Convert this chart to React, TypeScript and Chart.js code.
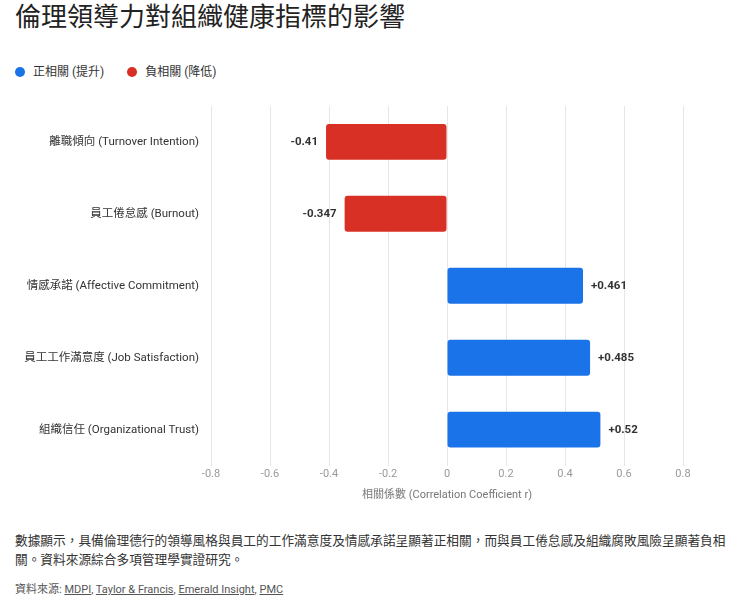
import React, { useEffect, useRef } from "react";
import { Chart, registerables, Plugin } from "chart.js";

Chart.register(...registerables);

const categories = [
  "離職傾向 (Turnover Intention)",
  "員工倦怠感 (Burnout)",
  "情感承諾 (Affective Commitment)",
  "員工工作滿意度 (Job Satisfaction)",
  "組織信任 (Organizational Trust)",
];
const positiveValues = [null, null, 0.461, 0.485, 0.52];
const negativeValues = [-0.41, -0.347, null, null, null];
const xTicks = [-0.8, -0.6, -0.4, -0.2, 0, 0.2, 0.4, 0.6, 0.8];
const seriesNames = ["正相關 (提升)", "負相關 (降低)"];
const seriesColors = ["#1a73e8", "#d93025"];

const FONT = "Roboto, 'Noto Sans CJK TC', 'Noto Sans', sans-serif";

// draws the value next to the end of each bar
const valueLabels: Plugin<"bar"> = {
  id: "valueLabels",
  afterDatasetsDraw(chart) {
    const ctx = chart.ctx;
    ctx.save();
    ctx.font = `bold 11.5px ${FONT}`;
    ctx.fillStyle = "#333";
    ctx.textBaseline = "middle";
    chart.data.datasets.forEach((ds, i) => {
      const meta = chart.getDatasetMeta(i);
      meta.data.forEach((bar: any, j) => {
        const v = ds.data[j] as number | null;
        if (v == null) return;
        if (v < 0) {
          ctx.textAlign = "right";
          ctx.fillText(String(v), bar.x - 8, bar.y);
        } else {
          ctx.textAlign = "left";
          ctx.fillText("+" + v, bar.x + 8, bar.y);
        }
      });
    });
    ctx.restore();
  },
};

const CorrelationChart: React.FC = () => {
  const chartRef = useRef<HTMLCanvasElement | null>(null);
  const chartInstance = useRef<Chart | null>(null);

  useEffect(() => {
    document.body.style.margin = "0";
    if (!chartRef.current) return;
    const ctx = chartRef.current.getContext("2d");
    if (!ctx) return;
    if (chartInstance.current) chartInstance.current.destroy();

    chartInstance.current = new Chart(ctx, {
      type: "bar",
      data: {
        labels: categories,
        datasets: [
          {
            label: seriesNames[0],
            data: positiveValues,
            backgroundColor: seriesColors[0],
            borderRadius: 3,
            borderSkipped: false,
          },
          {
            label: seriesNames[1],
            data: negativeValues,
            backgroundColor: seriesColors[1],
            borderRadius: 3,
            borderSkipped: false,
          },
        ],
      },
      options: {
        indexAxis: "y",
        animation: false,
        responsive: true,
        maintainAspectRatio: false,
        barPercentage: 0.5,
        categoryPercentage: 1,
        layout: { padding: { right: 40, top: 5, bottom: 4 } },
        plugins: {
          legend: { display: false },
          tooltip: { enabled: false },
        },
        scales: {
          x: {
            stacked: true,
            min: -0.8,
            max: 0.8,
            afterBuildTicks: (scale) => {
              scale.ticks = xTicks.map((v) => ({ value: v }));
            },
            ticks: {
              color: "#999",
              padding: 2,
              font: { family: FONT, size: 11 },
              callback: (v) => String(Math.round(Number(v) * 10) / 10),
            },
            grid: { color: "#e6e6e6", drawTicks: false },
            border: { display: false },
            title: {
              display: true,
              text: "相關係數 (Correlation Coefficient r)",
              color: "#777",
              padding: { top: 6, bottom: 4 },
              font: { family: FONT, size: 11 },
            },
          },
          y: {
            stacked: true,
            afterFit: (scale) => {
              scale.width = 196;
            },
            ticks: {
              color: "#333",
              padding: 4,
              font: { family: FONT, size: 11.5 },
            },
            grid: { display: false },
            border: { display: false },
          },
        },
      },
      plugins: [valueLabels],
    });

    return () => {
      if (chartInstance.current) {
        chartInstance.current.destroy();
        chartInstance.current = null;
      }
    };
  }, []);

  return (
    <div style={{ position: "relative", height: 415, width: 708 }}>
      <canvas ref={chartRef}></canvas>
    </div>
  );
};

const linkStyle: React.CSSProperties = { color: "#555", textDecoration: "underline" };

const App: React.FC = () => {
  return (
    <div style={{ fontFamily: FONT, paddingLeft: 15, width: 725 }}>
      <h1
        style={{
          margin: 0,
          fontSize: 26,
          lineHeight: "34px",
          fontWeight: 400,
          color: "#222",
        }}
      >
        倫理領導力對組織健康指標的影響
      </h1>
      <div
        style={{
          height: 61,
          boxSizing: "border-box",
          paddingTop: 31,
          display: "flex",
          alignItems: "flex-start",
          fontSize: 12,
          lineHeight: "14px",
          color: "#333",
        }}
      >
        {seriesNames.map((name, i) => (
          <div key={name} style={{ display: "flex", alignItems: "center", marginRight: 23 }}>
            <span
              style={{
                display: "inline-block",
                width: 10,
                height: 10,
                borderRadius: "50%",
                background: seriesColors[i],
                marginRight: 8,
              }}
            />
            {name}
          </div>
        ))}
      </div>
      <CorrelationChart />
      <p
        style={{
          margin: "21px 0 0 0",
          fontSize: 12.7,
          lineHeight: "19px",
          color: "#333",
          width: 720,
        }}
      >
        數據顯示，具備倫理德行的領導風格與員工的工作滿意度及情感承諾呈顯著正相關，而與員工倦怠感及組織腐敗風險呈顯著負相關。資料來源綜合多項管理學實證研究。
      </p>
      <p style={{ margin: "11px 0 0 0", fontSize: 11, color: "#555" }}>
        資料來源: <span style={linkStyle}>MDPI</span>, <span style={linkStyle}>Taylor &amp; Francis</span>,{" "}
        <span style={linkStyle}>Emerald Insight</span>, <span style={linkStyle}>PMC</span>
      </p>
    </div>
  );
};

export default App;
